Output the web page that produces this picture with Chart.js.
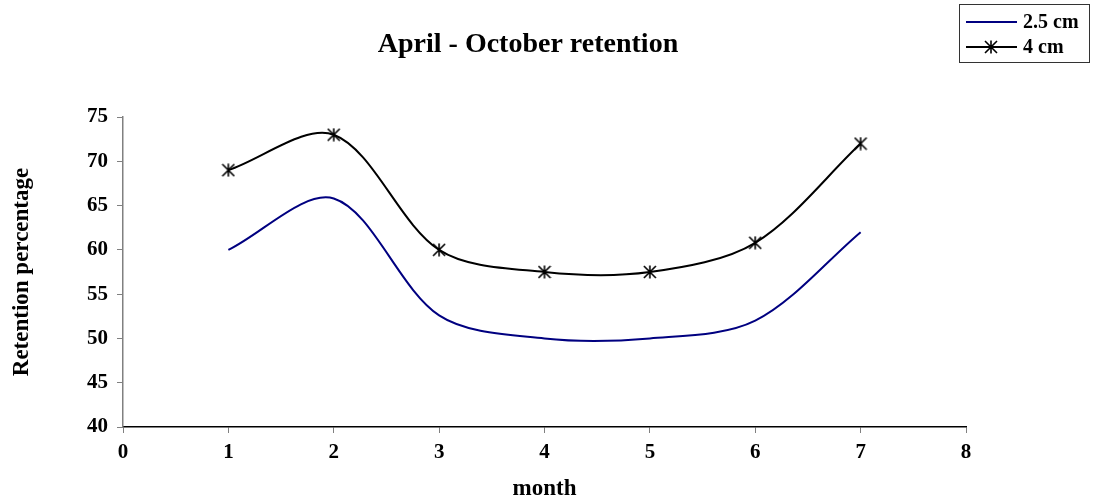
<!DOCTYPE html>
<html>
<head>
<meta charset="utf-8">
<title>April - October retention</title>
<script src="https://cdn.jsdelivr.net/npm/chart.js@4.4.1/dist/chart.umd.min.js"></script>
<style>
  html, body { margin: 0; padding: 0; background: #ffffff; }
  #wrap { width: 1097px; height: 501px; position: relative; }
</style>
</head>
<body>
<div id="wrap"><canvas id="chart" width="1097" height="501"></canvas></div>
<script>
// Month index along the x axis
const months = [1, 2, 3, 4, 5, 6, 7];
// Retention (%) for each depth
const retention25 = [60, 65.8, 52.6, 50, 50, 52, 62];
const retention40 = [69, 73, 60, 57.5, 57.5, 60.8, 72];

const chartTitle = 'April - October retention';
const xTitle = 'month';
const yTitle = 'Retention percentage';
const seriesNames = ['2.5 cm', '4 cm'];

const SERIF = '"Liberation Serif", "Times New Roman", serif';

// Six-armed asterisk marker
function asteriskMarker(size, color) {
  const c = document.createElement('canvas');
  c.width = size; c.height = size;
  const g = c.getContext('2d');
  const m = size / 2, r = size / 2 - 1;
  g.strokeStyle = color;
  g.lineWidth = 1.6;
  g.beginPath();
  g.moveTo(m - r, m - r); g.lineTo(m + r, m + r);
  g.moveTo(m + r, m - r); g.lineTo(m - r, m + r);
  g.moveTo(m, 0.5); g.lineTo(m, size - 0.5);
  g.stroke();
  return c;
}
const starMark = asteriskMarker(14, '#000000');

const toPoints = (xs, ys) => xs.map((x, i) => ({ x: x, y: ys[i] }));

// Title and boxed legend drawn on top of the chart
const decorations = {
  id: 'decorations',
  afterDraw(chart) {
    const ctx = chart.ctx;
    ctx.save();
    ctx.fillStyle = '#000';
    ctx.font = 'bold 28px ' + SERIF;
    ctx.textAlign = 'center';
    ctx.textBaseline = 'alphabetic';
    ctx.fillText(chartTitle, 528, 52);

    // legend box
    const bx = 959.5, by = 4.5, bw = 130, bh = 58;
    ctx.strokeStyle = '#333';
    ctx.lineWidth = 1;
    ctx.strokeRect(bx, by, bw, bh);
    ctx.font = 'bold 20px ' + SERIF;
    ctx.textAlign = 'left';
    ctx.textBaseline = 'middle';
    const rows = [22, 47];
    chart.data.datasets.forEach((ds, i) => {
      const y = rows[i];
      ctx.strokeStyle = ds.borderColor;
      ctx.lineWidth = 2;
      ctx.beginPath();
      ctx.moveTo(966, y);
      ctx.lineTo(1017, y);
      ctx.stroke();
      if (ds.pointStyle instanceof HTMLCanvasElement) {
        ctx.drawImage(ds.pointStyle, 991 - ds.pointStyle.width / 2, y - ds.pointStyle.height / 2);
      }
      ctx.fillStyle = '#000';
      ctx.fillText(ds.label, 1023, y + 1);
    });
    ctx.restore();
  }
};

new Chart(document.getElementById('chart'), {
  type: 'line',
  data: {
    datasets: [
      {
        label: seriesNames[0],
        data: toPoints(months, retention25),
        borderColor: '#000080',
        borderWidth: 2,
        pointRadius: 0,
        tension: 0.32,
        fill: false
      },
      {
        label: seriesNames[1],
        data: toPoints(months, retention40),
        borderColor: '#000000',
        borderWidth: 2,
        pointStyle: starMark,
        pointRadius: 6,
        tension: 0.32,
        fill: false
      }
    ]
  },
  options: {
    responsive: false,
    animation: false,
    devicePixelRatio: 1,
    layout: { padding: { top: 117, right: 131, bottom: 0, left: 0 } },
    plugins: {
      legend: { display: false },
      title: { display: false },
      tooltip: { enabled: false }
    },
    scales: {
      x: {
        type: 'linear',
        min: 0,
        max: 8,
        afterFit(scale) { scale.height = 74; },
        ticks: {
          stepSize: 1,
          color: '#000',
          padding: 7,
          font: { family: SERIF, size: 21, weight: 'bold' }
        },
        grid: { drawOnChartArea: false, tickLength: 6, color: '#808080' },
        border: { color: '#000000', width: 1.5 },
        title: {
          display: true,
          text: xTitle,
          color: '#000',
          padding: { top: 0, bottom: 0 },
          font: { family: SERIF, size: 23, weight: 'bold', lineHeight: 1 }
        }
      },
      y: {
        min: 40,
        max: 75,
        afterFit(scale) { scale.width = 123; },
        ticks: {
          stepSize: 5,
          color: '#000',
          padding: 9,
          font: { family: SERIF, size: 21, weight: 'bold' }
        },
        grid: { drawOnChartArea: false, tickLength: 6, color: '#808080' },
        border: { color: '#808080', width: 1.5 },
        title: {
          display: true,
          text: yTitle,
          color: '#000',
          padding: { top: 11, bottom: 0 },
          font: { family: SERIF, size: 23, weight: 'bold', lineHeight: 1 }
        }
      }
    }
  },
  plugins: [decorations]
});
</script>
</body>
</html>
